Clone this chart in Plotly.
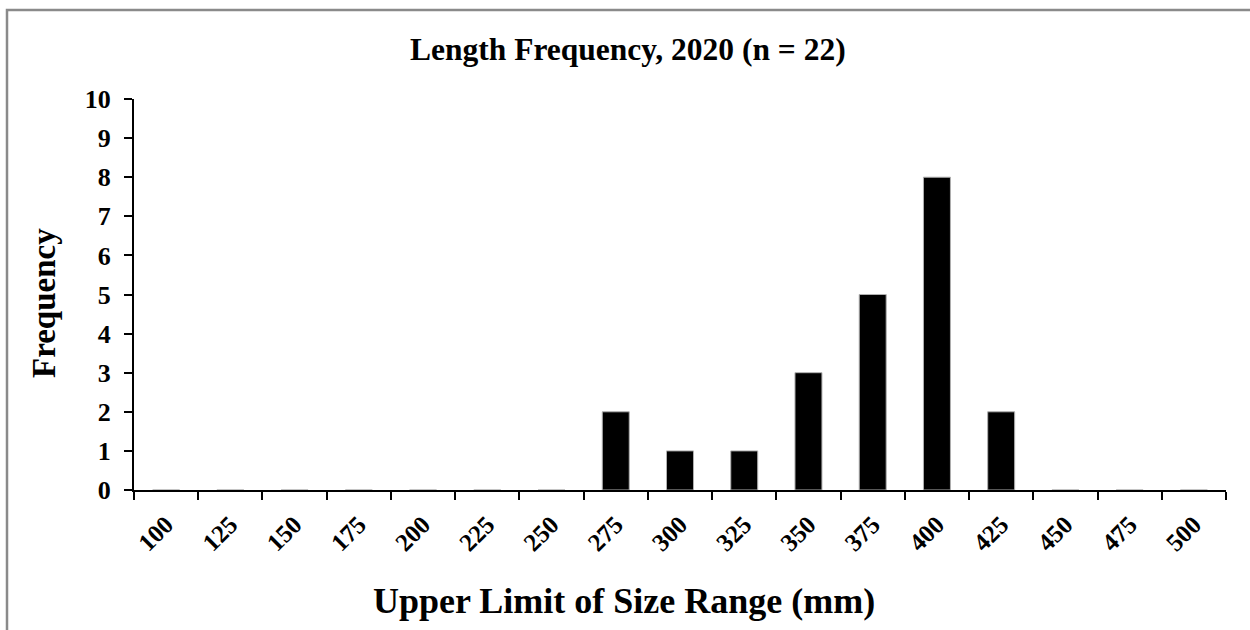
import plotly.graph_objects as go

categories = ["100", "125", "150", "175", "200", "225", "250", "275", "300",
              "325", "350", "375", "400", "425", "450", "475", "500"]
frequency = [0, 0, 0, 0, 0, 0, 0, 2, 1, 1, 3, 5, 8, 2, 0, 0, 0]

title_text = "Length Frequency, 2020 (n = 22)"
x_title = "Upper Limit of Size Range (mm)"
y_title = "Frequency"

W, H = 1250, 630
L, R, T, B = 134, 24, 99, 140
pw, ph = W - L - R, H - T - B

def px(x):
    return (x - L) / pw

def py(y):
    return (H - B - y) / ph

FONT = "Liberation Serif, Times New Roman, serif"

fig = go.Figure(go.Bar(
    x=categories, y=frequency, width=0.42,
    marker=dict(color="black", line=dict(color="#b0b0b0", width=1)),
))

fig.update_layout(
    width=W, height=H,
    margin=dict(l=L, r=R, t=T, b=B),
    paper_bgcolor="white", plot_bgcolor="white",
    showlegend=False,
    font=dict(family=FONT, color="black"),
    xaxis=dict(
        type="category", tickson="boundaries", ticks="outside", ticklen=8,
        tickwidth=2, tickcolor="black", showline=True, linecolor="black",
        linewidth=2, showgrid=False, tickangle=-45, ticklabelstandoff=8,
        tickfont=dict(family=FONT, size=25, color="black", weight="bold"),
    ),
    yaxis=dict(
        range=[0, 10], dtick=1, ticks="outside", ticklen=8, tickwidth=2,
        tickcolor="black", showline=True, linecolor="black", linewidth=2,
        showgrid=False, zeroline=False, ticklabelstandoff=8,
        tickfont=dict(family=FONT, size=26, color="black", weight="bold"),
    ),
    annotations=[
        dict(text="<b>" + title_text + "</b>", xref="paper", yref="paper",
             x=px(628), y=py(49), xanchor="center", yanchor="middle",
             showarrow=False,
             font=dict(family=FONT, size=31.5, color="black")),
        dict(text="<b>" + x_title + "</b>", xref="paper", yref="paper",
             x=px(624), y=py(601), xanchor="center", yanchor="middle",
             showarrow=False,
             font=dict(family=FONT, size=36, color="black")),
        dict(text="<b>" + y_title + "</b>", xref="paper", yref="paper",
             x=px(44), y=py(303), xanchor="center", yanchor="middle",
             showarrow=False, textangle=-90,
             font=dict(family=FONT, size=33, color="black")),
    ],
    shapes=[
        dict(type="rect", xref="paper", yref="paper",
             x0=px(7), y0=py(700), x1=px(1300), y1=py(10),
             line=dict(color="#8a8a8a", width=2.5), layer="below"),
    ],
)

fig.write_html("out.html", config={"displayModeBar": False},
               post_script="document.body.style.margin='0';document.body.style.overflow='hidden';")
